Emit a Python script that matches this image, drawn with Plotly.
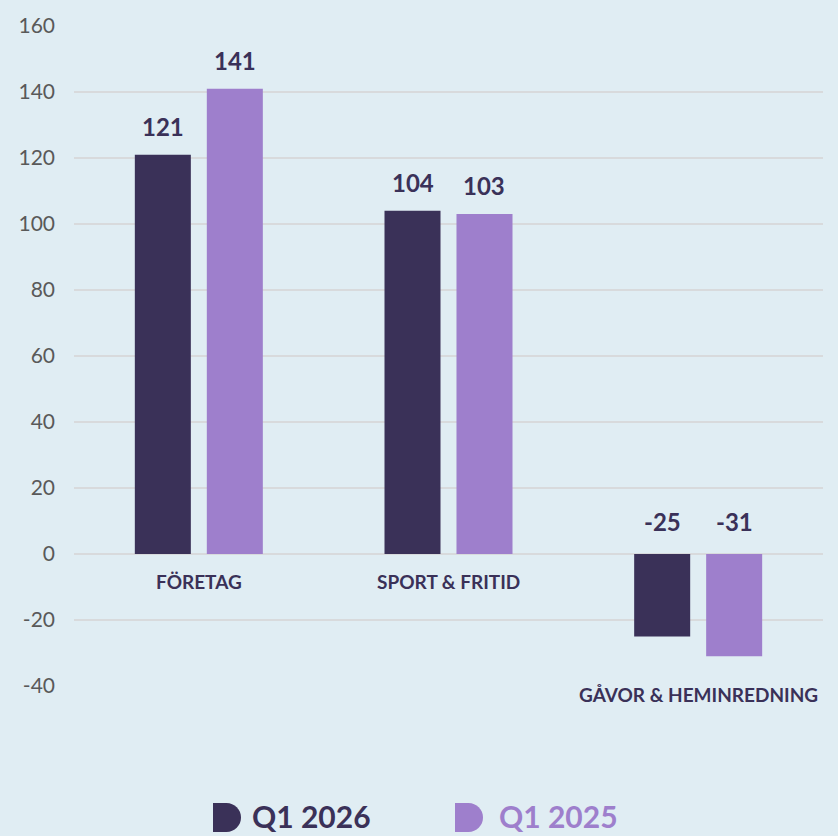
import plotly.graph_objects as go

categories = ["FÖRETAG", "SPORT &amp; FRITID", "GÅVOR &amp; HEMINREDNING"]
cat_keys = ["FÖRETAG", "SPORT & FRITID", "GÅVOR & HEMINREDNING"]
series_names = ["Q1 2026", "Q1 2025"]
q1_2026 = [121, 104, -25]
q1_2025 = [141, 103, -31]
y_ticks = [-40, -20, 0, 20, 40, 60, 80, 100, 120, 140, 160]
y_tick_text = ["-40", "-20", "0", "20", "40", "60", "80", "100", "120", "140", "160"]

DARK = "#3a3158"
LAV = "#9e7fcc"
BG = "#e0edf3"
GRID = "#d8dadc"
FONT = "Lato"

W, H = 838, 836
ML, MR, MT, MB = 74, 15, 24, 150
pw = W - ML - MR
ph = H - MT - MB


def px2paper_x(px):
    return (px - ML) / pw


def py2paper_y(py):
    return (MT + ph - py) / ph


fig = go.Figure()
for name, vals, col in [(series_names[0], q1_2026, DARK), (series_names[1], q1_2025, LAV)]:
    fig.add_trace(go.Bar(x=cat_keys, y=vals, name=name, marker_color=col,
                         marker_line_width=0, showlegend=False, hoverinfo="skip"))

ann = []
# value labels
for si, vals in enumerate([q1_2026, q1_2025]):
    off = -0.144 if si == 0 else 0.144
    for ci, v in enumerate(vals):
        if v >= 0:
            ann.append(dict(x=ci + off, y=v, xref="x", yref="y", text=f"<b>{v}</b>",
                            showarrow=False, yanchor="bottom", yshift=12,
                            font=dict(family=FONT, size=24, color=DARK)))
        else:
            ann.append(dict(x=ci + off, y=0, xref="x", yref="y", text=f"<b>{v}</b>",
                            showarrow=False, yanchor="bottom", yshift=16,
                            font=dict(family=FONT, size=24, color=DARK)))

# category labels
for ci, (lab, v1, v2) in enumerate(zip(categories, q1_2026, q1_2025)):
    if min(v1, v2) >= 0:
        ann.append(dict(x=ci, y=-8.2, xref="x", yref="y", text=f"<b>{lab}</b>",
                        showarrow=False, yanchor="middle",
                        font=dict(family=FONT, size=19, color=DARK)))
    else:
        ann.append(dict(x=ci, y=py2paper_y(695), xref="x", yref="paper", text=f"<b>{lab}</b>",
                        showarrow=False, yanchor="middle",
                        font=dict(family=FONT, size=19, color=DARK)))

# custom legend
legend_items = [(series_names[0], DARK, 213, 250), (series_names[1], LAV, 455, 497)]
shapes = []
for name, col, mx, tx in legend_items:
    shapes.append(dict(type="path", xref="paper", yref="paper",
                       xsizemode="pixel", ysizemode="pixel",
                       xanchor=px2paper_x(mx), yanchor=py2paper_y(818),
                       path="M 0 -14.5 L 13.5 -14.5 C 21.5 -14.5 28 -8 28 0 C 28 8 21.5 14.5 13.5 14.5 L 0 14.5 Z",
                       fillcolor=col, line=dict(width=0)))
    ann.append(dict(x=px2paper_x(tx), y=py2paper_y(816), xref="paper", yref="paper",
                    text=f"<b>{name}</b>", showarrow=False, xanchor="left", yanchor="middle",
                    font=dict(family=FONT, size=30, color=col)))

fig.update_layout(
    width=W, height=H,
    margin=dict(l=ML, r=MR, t=MT, b=MB),
    paper_bgcolor=BG, plot_bgcolor=BG,
    barmode="group", bargap=0.4233, bargroupgap=0.222,
    annotations=ann, shapes=shapes,
    showlegend=False,
    xaxis=dict(showticklabels=False, showgrid=False, zeroline=False, showline=False,
               ticks=""),
    yaxis=dict(range=[-40, 160], tickvals=y_ticks, ticktext=y_tick_text,
               showgrid=True, gridcolor=GRID, gridwidth=2,
               zeroline=True, zerolinecolor=GRID, zerolinewidth=2, showline=False,
               ticks="", ticklabelstandoff=18,
               tickfont=dict(family=FONT, size=21, color="#595959")),
)

fig.write_html("out.html")
